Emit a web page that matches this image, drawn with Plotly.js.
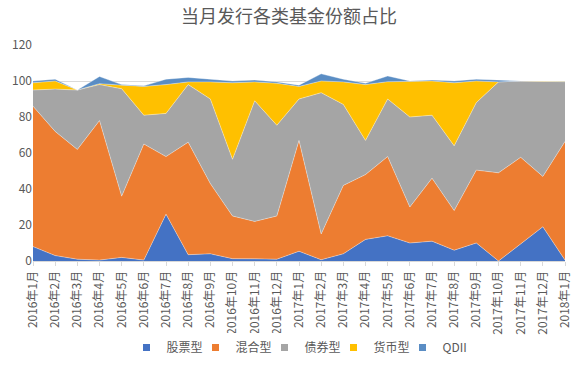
<!DOCTYPE html>
<html>
<head>
<meta charset="utf-8">
<script src="https://cdn.plot.ly/plotly-3.0.1.min.js"></script>
<style>html,body{margin:0;padding:0;background:#fff;}#chart{width:578px;height:365px;}</style>
</head>
<body>
<div id="chart"></div>
<script>
const months = ["2016年1月","2016年2月","2016年3月","2016年4月","2016年5月","2016年6月","2016年7月","2016年8月","2016年9月","2016年10月","2016年11月","2016年12月","2017年1月","2017年2月","2017年3月","2017年4月","2017年5月","2017年6月","2017年7月","2017年8月","2017年9月","2017年10月","2017年11月","2017年12月","2018年1月"];
const stock  = [8, 3, 1, 0.5, 2, 0.5, 26, 3.5, 4, 1.3, 1.2, 1, 5.4, 0.7, 4, 12, 14, 10, 11, 6, 10, 0, 9.5, 19, 0.5];
const mixed  = [78, 69, 61, 77.5, 34, 64.5, 32, 62.5, 39, 23.7, 20.8, 24, 61.6, 14.3, 38, 36, 44, 20, 35, 22, 40.5, 49, 48.1, 28, 65.9];
const bond   = [9, 23.5, 33, 20, 59.7, 16, 24, 32, 47, 31.5, 67, 50.4, 23, 78.5, 45, 19, 32, 50, 35, 36, 37.5, 50.5, 42.4, 53, 33.2];
const money  = [4, 4.5, 0, 0.5, 2, 16, 16, 1.5, 9.5, 42.5, 10.5, 23.3, 7, 6.5, 12.5, 31, 9.6, 19.6, 19, 35, 12, 0, 0, 0, 0.2];
const qdii   = [1, 1, 0, 4, 0.3, 0.3, 3, 2.5, 1.5, 1, 1, 0.8, 0.7, 4, 1.5, 0.7, 3.2, 0.4, 0.5, 1, 1, 1, 0, 0, 0.2];
const names = ["股票型","混合型","债券型","货币型","QDII"];
const series = [stock, mixed, bond, money, qdii];
const colors = ["#4472C4","#ED7D31","#A5A5A5","#FFC000","#5A8DC4"];

const traces = series.map((s, k) => ({
  type: "scatter",
  mode: "lines",
  x: months,
  y: s,
  name: names[k],
  stackgroup: "one",
  fillcolor: colors[k],
  line: {color: "rgba(255,255,255,0.45)", width: 0.8},
  showlegend: false,
  hoverinfo: "skip"
}));
// legend-only entries with square swatches
names.forEach((n, k) => traces.push({
  type: "scatter", mode: "markers", x: [null], y: [null], name: n,
  marker: {symbol: "square", size: 7, color: colors[k]},
  showlegend: true, hoverinfo: "skip"
}));

const layout = {
  width: 578, height: 365,
  margin: {l: 33, r: 13, t: 45, b: 104, autoexpand: false},
  paper_bgcolor: "#fff", plot_bgcolor: "#fff",
  font: {family: "Noto Sans CJK SC, sans-serif", color: "#595959", size: 12},
  title: {text: "当月发行各类基金份额占比", x: 0.5, xanchor: "center", y: 0.955, yanchor: "middle", font: {size: 18, color: "#595959"}},
  showlegend: true,
  legend: {orientation: "h", x: 0.5, xanchor: "center", y: -0.40, yanchor: "middle", font: {size: 12, color: "#595959"}, itemwidth: 30, entrywidth: 24, traceorder: "normal"},
  xaxis: {type: "category", range: [0, 24], tickangle: -90, automargin: false, showgrid: false, zeroline: false, showline: true, linecolor: "#d9d9d9", ticks: "outside", ticklen: 4, tickcolor: "#d9d9d9", tickfont: {size: 12, color: "#595959"}},
  yaxis: {range: [0, 120], dtick: 20, automargin: false, showgrid: true, gridcolor: "#d9d9d9", zeroline: false, showline: false, tickfont: {size: 12, color: "#595959"}}
};

Plotly.newPlot("chart", traces, layout, {displayModeBar: false, staticPlot: true});
</script>
</body>
</html>
